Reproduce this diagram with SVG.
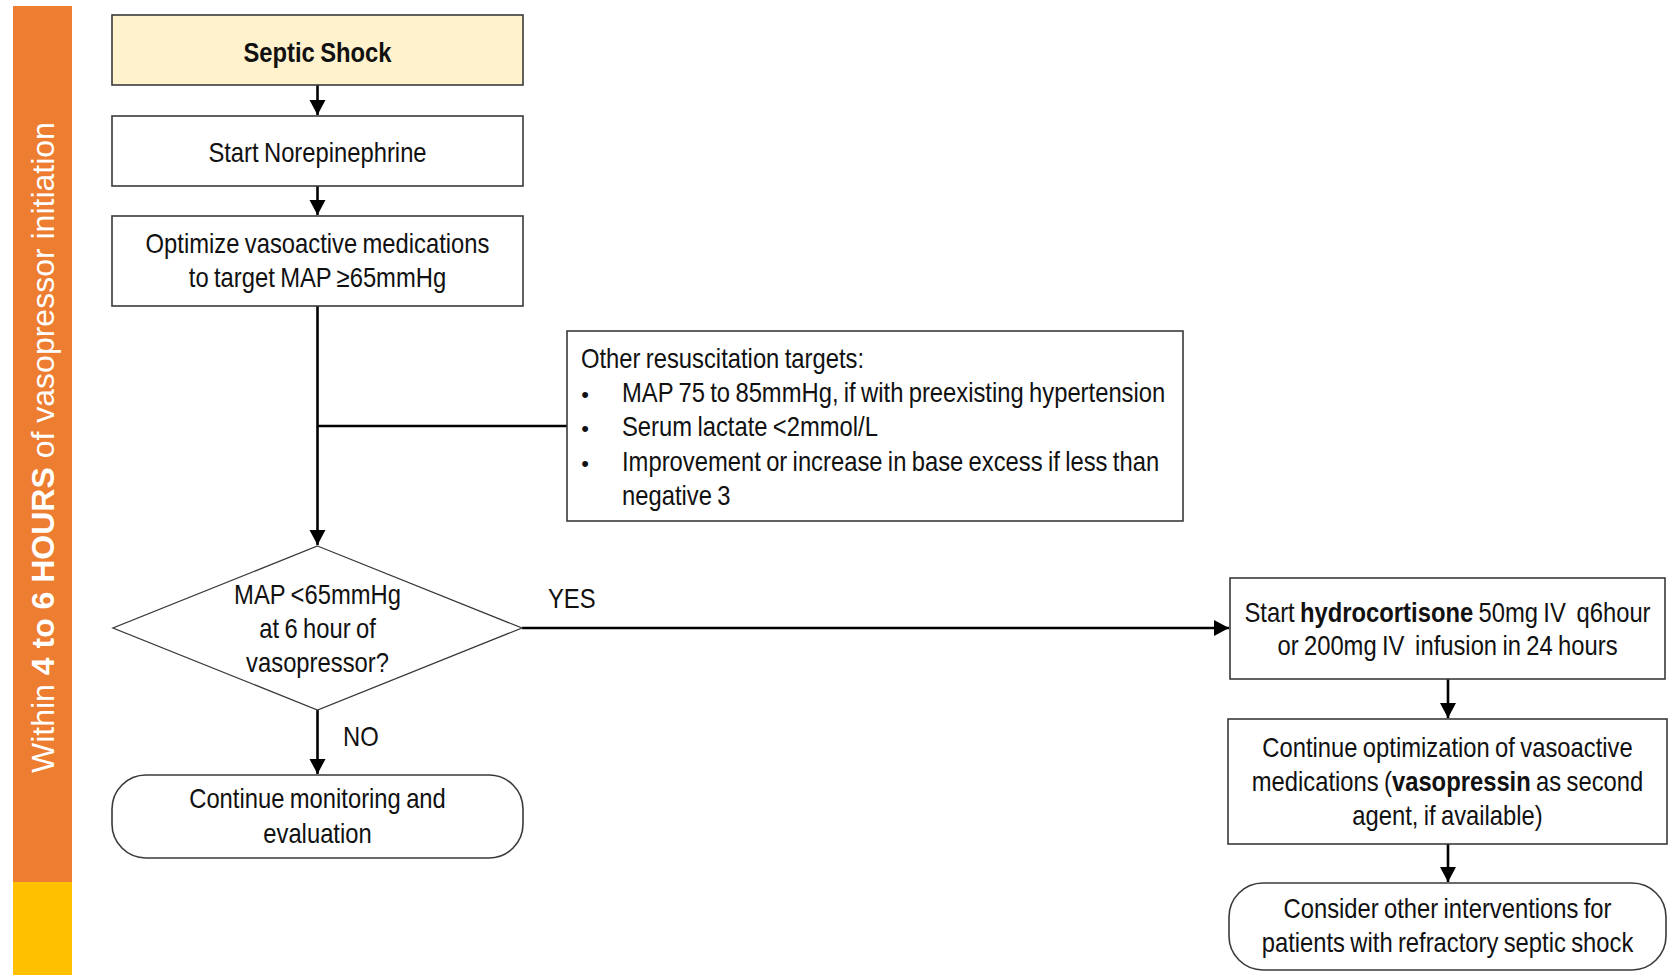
<svg xmlns="http://www.w3.org/2000/svg" width="1669" height="975" viewBox="0 0 1669 975">
  <style>
    .box { fill: #ffffff; stroke: #3a3a3a; stroke-width: 1.6; }
    .start { fill: #fff2cc; }
    .dia { fill: #ffffff; stroke: #3a3a3a; stroke-width: 1.3; }
    .t { font-family: "Liberation Sans", Arial, sans-serif; font-size: 28px; fill: #111111; text-anchor: middle; white-space: pre; word-spacing: -1.5px; }
    .l { text-anchor: start; }
    .b { font-weight: bold; }
    .conn { fill: none; stroke: #000000; stroke-width: 2.6; }
    .side { font-family: "Liberation Sans", Arial, sans-serif; font-size: 32px; fill: #ffffff; }
  </style>
  <defs>
    <marker id="arrow" markerUnits="userSpaceOnUse" markerWidth="16" markerHeight="17" refX="15" refY="8" orient="auto" viewBox="0 0 16 17">
      <path d="M0,0 L15,8 L0,16 Z" fill="#000000"/>
    </marker>
  </defs>

  <rect width="1669" height="975" fill="#ffffff"/>

  <!-- time band on the left -->
  <g id="time-band">
    <rect x="13" y="6" width="59" height="876" fill="#ed7d31"/>
    <rect x="13" y="882" width="59" height="93" fill="#ffc000"/>
    <text class="side" transform="translate(54,773) rotate(-90)">Within <tspan font-weight="bold">4 to 6 HOURS</tspan> of vasopressor initiation</text>
  </g>

  <!-- connectors -->
  <g id="connectors">
    <line class="conn" x1="317.5" y1="85" x2="317.5" y2="115" marker-end="url(#arrow)"/>
    <line class="conn" x1="317.5" y1="186" x2="317.5" y2="215" marker-end="url(#arrow)"/>
    <line class="conn" x1="317.5" y1="306" x2="317.5" y2="545" marker-end="url(#arrow)"/>
    <line class="conn" x1="317.5" y1="426" x2="567" y2="426"/>
    <line class="conn" x1="317.5" y1="710" x2="317.5" y2="774" marker-end="url(#arrow)"/>
    <line class="conn" x1="522" y1="628" x2="1229" y2="628" marker-end="url(#arrow)"/>
    <line class="conn" x1="1448" y1="679" x2="1448" y2="718" marker-end="url(#arrow)"/>
    <line class="conn" x1="1448" y1="844" x2="1448" y2="882" marker-end="url(#arrow)"/>
    <text class="t" transform="translate(548,0) scale(0.85,1)" style="text-anchor:start" y="608">YES</text>
    <text class="t" transform="translate(343,0) scale(0.85,1)" style="text-anchor:start" y="746">NO</text>
  </g>

  <g id="septic-shock">
    <rect class="box start" x="112" y="15" width="411" height="70"/>
    <text class="t b" transform="translate(317.5,0) scale(0.85,1)" y="62">Septic Shock</text>
  </g>

  <g id="start-norepinephrine">
    <rect class="box" x="112" y="116" width="411" height="70"/>
    <text class="t" transform="translate(317.5,0) scale(0.85,1)" y="162">Start Norepinephrine</text>
  </g>

  <g id="optimize">
    <rect class="box" x="112" y="216" width="411" height="90"/>
    <text class="t" transform="translate(317.5,0) scale(0.85,1)" y="253">Optimize vasoactive medications</text>
    <text class="t" transform="translate(317.5,0) scale(0.85,1)" y="287">to target MAP ≥65mmHg</text>
  </g>

  <g id="other-targets">
    <rect class="box" x="567" y="331" width="616" height="190"/>
    <text class="t l" transform="translate(581,0) scale(0.85,1)" y="368">Other resuscitation targets:</text>
    <text class="t" x="585" y="402" style="font-size:22px">•</text>
    <text class="t" x="585" y="436" style="font-size:22px">•</text>
    <text class="t" x="585" y="471" style="font-size:22px">•</text>
    <text class="t l" transform="translate(622,0) scale(0.85,1)" y="402">MAP 75 to 85mmHg, if with preexisting hypertension</text>
    <text class="t l" transform="translate(622,0) scale(0.85,1)" y="436">Serum lactate &lt;2mmol/L</text>
    <text class="t l" transform="translate(622,0) scale(0.85,1)" y="471">Improvement or increase in base excess if less than</text>
    <text class="t l" transform="translate(622,0) scale(0.85,1)" y="505">negative 3</text>
  </g>

  <g id="map-decision">
    <polygon class="dia" points="317.5,546 522,628 317.5,710 113,628"/>
    <text class="t" transform="translate(317.5,0) scale(0.85,1)" y="604">MAP &lt;65mmHg</text>
    <text class="t" transform="translate(317.5,0) scale(0.85,1)" y="638">at 6 hour of</text>
    <text class="t" transform="translate(317.5,0) scale(0.85,1)" y="672">vasopressor?</text>
  </g>

  <g id="continue-monitoring">
    <rect class="box" x="112" y="775" width="411" height="83" rx="34" ry="34"/>
    <text class="t" transform="translate(317.5,0) scale(0.85,1)" y="808">Continue monitoring and</text>
    <text class="t" transform="translate(317.5,0) scale(0.85,1)" y="843">evaluation</text>
  </g>

  <g id="hydrocortisone">
    <rect class="box" x="1230" y="578" width="435" height="101"/>
    <text class="t" transform="translate(1447.5,0) scale(0.85,1)" y="622">Start <tspan class="b">hydrocortisone</tspan> 50mg IV  q6hour</text>
    <text class="t" transform="translate(1447.5,0) scale(0.85,1)" y="655">or 200mg IV  infusion in 24 hours</text>
  </g>

  <g id="vasopressin">
    <rect class="box" x="1228" y="719" width="439" height="125"/>
    <text class="t" transform="translate(1447.5,0) scale(0.85,1)" y="757">Continue optimization of vasoactive</text>
    <text class="t" transform="translate(1447.5,0) scale(0.85,1)" y="791">medications (<tspan class="b">vasopressin</tspan> as second</text>
    <text class="t" transform="translate(1447.5,0) scale(0.85,1)" y="825">agent, if available)</text>
  </g>

  <g id="refractory">
    <rect class="box" x="1229" y="883" width="437" height="87" rx="34" ry="34"/>
    <text class="t" transform="translate(1447.5,0) scale(0.85,1)" y="918">Consider other interventions for</text>
    <text class="t" transform="translate(1447.5,0) scale(0.85,1)" y="952">patients with refractory septic shock</text>
  </g>
</svg>
